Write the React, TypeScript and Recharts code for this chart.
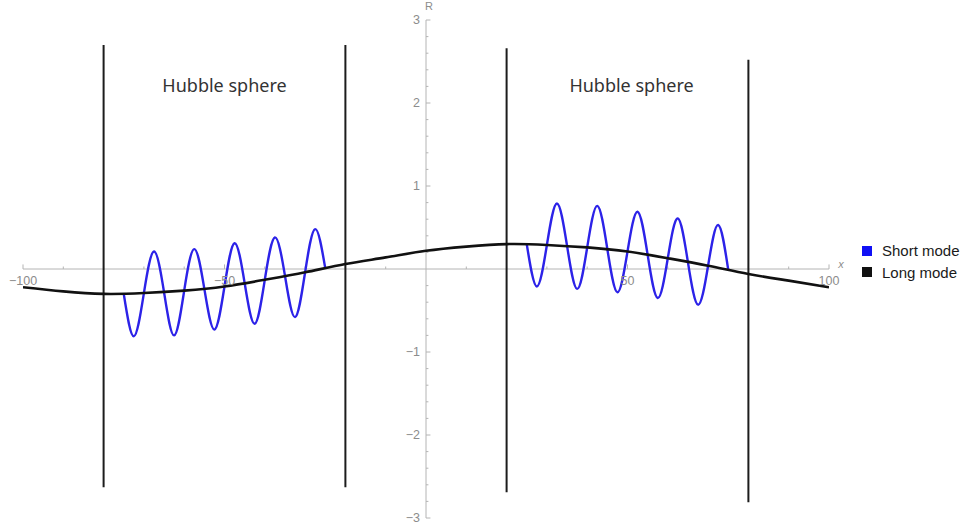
import React from 'react';
import { LineChart, Line, XAxis, YAxis, ReferenceLine, ReferenceDot } from 'recharts';

// Long-wavelength mode across the whole comoving range
const longX = [-100, -90, -80, -70, -60, -50, -40, -30, -20, -10, 0, 10, 20, 30, 40, 50, 60, 70, 80, 90, 100];
const longY = [-0.22, -0.27, -0.30, -0.29, -0.26, -0.21, -0.13, -0.04, 0.06, 0.14, 0.22, 0.27, 0.30, 0.29, 0.26, 0.21, 0.13, 0.04, -0.06, -0.14, -0.22];

// Short-wavelength mode inside the left Hubble sphere
const shortLeftX = [-75, -72.5, -70, -67.5, -65, -62.5, -60, -57.5, -55, -52.5, -50, -47.5, -45, -42.5, -40, -37.5, -35, -32.5, -30, -27.5, -25];
const shortLeftY = [-0.30, -0.81, -0.29, 0.21, -0.28, -0.80, -0.26, 0.24, -0.24, -0.73, -0.21, 0.31, -0.17, -0.66, -0.13, 0.38, -0.08, -0.58, -0.04, 0.48, 0.01];

// Short-wavelength mode inside the right Hubble sphere
const shortRightX = [25, 27.5, 30, 32.5, 35, 37.5, 40, 42.5, 45, 47.5, 50, 52.5, 55, 57.5, 60, 62.5, 65, 67.5, 70, 72.5, 75];
const shortRightY = [0.30, -0.21, 0.29, 0.79, 0.28, -0.24, 0.26, 0.76, 0.24, -0.28, 0.21, 0.69, 0.17, -0.35, 0.13, 0.61, 0.08, -0.43, 0.04, 0.53, -0.01];

// Hubble sphere boundaries
const horizonX = [-80, -20, 20, 80];
const horizonBottom = [-2.63, -2.63, -2.69, -2.81];
const horizonTop = [2.70, 2.70, 2.66, 2.52];

// Region captions
const captionText = ['Hubble sphere', 'Hubble sphere'];
const captionX = [-50, 51];
const captionY = 2.22;

// Axis ticks
const xMajorTicks = [-100, -50, 50, 100];
const xTickLabels = ['\u2212100', '\u221250', '50', '100'];
const xMinorTicks = [-90, -80, -70, -60, -40, -30, -20, -10, 10, 20, 30, 40, 60, 70, 80, 90];
const yMajorTicks = [-3, -2, -1, 1, 2, 3];
const yTickLabels = ['\u22123', '\u22122', '\u22121', '1', '2', '3'];
const yMinorTicks = [-2.8, -2.6, -2.4, -2.2, -1.8, -1.6, -1.4, -1.2, -0.8, -0.6, -0.4, -0.2, 0.2, 0.4, 0.6, 0.8, 1.2, 1.4, 1.6, 1.8, 2.2, 2.4, 2.6, 2.8];

const legendNames = ['Short mode', 'Long mode'];
const legendColors = ['#1010f5', '#111111'];

const SHORT_COLOR = '#2c22e8';
const LONG_COLOR = '#111111';
const AXIS_COLOR = '#b4b4b4';
const TICK_TEXT = '#8c8c8c';
const SANS = '"Liberation Sans", Arial, sans-serif';

const toPoints = (xs: number[], ys: number[]) => xs.map((x, i) => ({ x, y: ys[i] }));

const longData = toPoints(longX, longY);
const shortLeftData = toPoints(shortLeftX, shortLeftY);
const shortRightData = toPoints(shortRightX, shortRightY);

type TextProps = {
  cx?: number;
  cy?: number;
  text: string;
  dx?: number;
  dy?: number;
  anchor?: 'start' | 'middle' | 'end';
  size?: number;
  color?: string;
  family?: string;
  italic?: boolean;
};

const PlacedText = ({ cx = 0, cy = 0, text, dx = 0, dy = 0, anchor = 'middle', size = 12.5, color = TICK_TEXT, family = SANS, italic = false }: TextProps) => (
  <text
    x={cx + dx}
    y={cy + dy}
    textAnchor={anchor}
    dominantBaseline="central"
    fontSize={size}
    fill={color}
    fontFamily={family}
    fontStyle={italic ? 'italic' : 'normal'}
  >
    {text}
  </text>
);

const Legend = () => (
  <div style={{ position: 'absolute', left: 862, top: 240, fontFamily: SANS, fontSize: 15, color: '#1a1a1a' }}>
    {legendNames.map((name, i) => (
      <div key={name} style={{ display: 'flex', alignItems: 'center', height: 21.5 }}>
        <span style={{ display: 'inline-block', width: 10, height: 10, background: legendColors[i], marginRight: 10 }} />
        <span>{name}</span>
      </div>
    ))}
  </div>
);

export default function App() {
  return (
    <div style={{ position: 'absolute', left: 0, top: 0, width: 963, height: 531, background: '#fff' }}>
      <LineChart width={963} height={531} margin={{ top: 20, right: 134, bottom: 13, left: 23 }}>
        <XAxis type="number" dataKey="x" domain={[-100, 100]} hide allowDataOverflow />
        <YAxis type="number" dataKey="y" domain={[-3, 3]} hide allowDataOverflow />

        {/* axes crossing at the origin */}
        <ReferenceLine y={0} stroke={AXIS_COLOR} strokeWidth={1} />
        <ReferenceLine x={0} stroke={AXIS_COLOR} strokeWidth={1} />

        {xMinorTicks.map((v) => (
          <ReferenceLine key={`xm${v}`} segment={[{ x: v, y: 0 }, { x: v, y: 0.03 }]} stroke={AXIS_COLOR} />
        ))}
        {xMajorTicks.map((v) => (
          <ReferenceLine key={`xM${v}`} segment={[{ x: v, y: 0 }, { x: v, y: 0.055 }]} stroke={AXIS_COLOR} />
        ))}
        {yMinorTicks.map((v) => (
          <ReferenceLine key={`ym${v}`} segment={[{ x: 0, y: v }, { x: 0.6, y: v }]} stroke={AXIS_COLOR} />
        ))}
        {yMajorTicks.map((v) => (
          <ReferenceLine key={`yM${v}`} segment={[{ x: 0, y: v }, { x: 1.1, y: v }]} stroke={AXIS_COLOR} />
        ))}

        {xMajorTicks.map((v, i) => (
          <ReferenceDot
            key={`xl${v}`}
            x={v}
            y={0}
            r={0}
            shape={(p: any) => <PlacedText cx={p.cx} cy={p.cy} dy={12} text={xTickLabels[i]} />}
          />
        ))}
        {yMajorTicks.map((v, i) => (
          <ReferenceDot
            key={`yl${v}`}
            x={0}
            y={v}
            r={0}
            shape={(p: any) => <PlacedText cx={p.cx} cy={p.cy} dx={-6} anchor="end" text={yTickLabels[i]} />}
          />
        ))}
        <ReferenceDot
          x={100}
          y={0}
          r={0}
          shape={(p: any) => <PlacedText cx={p.cx} cy={p.cy} dx={12} dy={-5} size={11} italic text="x" />}
        />
        <ReferenceDot
          x={0}
          y={3}
          r={0}
          shape={(p: any) => <PlacedText cx={p.cx} cy={p.cy} dx={3} dy={-14} size={11} text="R" />}
        />

        {captionX.map((v, i) => (
          <ReferenceDot
            key={`cap${i}`}
            x={v}
            y={captionY}
            r={0}
            shape={(p: any) => (
              <PlacedText cx={p.cx} cy={p.cy} size={18} color="#333" family='"Noto Sans", sans-serif' text={captionText[i]} />
            )}
          />
        ))}

        {horizonX.map((v, i) => (
          <Line
            key={`h${v}`}
            data={[{ x: v, y: horizonBottom[i] }, { x: v, y: horizonTop[i] }]}
            dataKey="y"
            type="linear"
            stroke="#1c1c1c"
            strokeWidth={2}
            dot={false}
            activeDot={false}
            isAnimationActive={false}
          />
        ))}

        <Line data={shortLeftData} dataKey="y" type="natural" stroke={SHORT_COLOR} strokeWidth={2.4} dot={false} activeDot={false} isAnimationActive={false} />
        <Line data={shortRightData} dataKey="y" type="natural" stroke={SHORT_COLOR} strokeWidth={2.4} dot={false} activeDot={false} isAnimationActive={false} />
        <Line data={longData} dataKey="y" type="natural" stroke={LONG_COLOR} strokeWidth={2.6} dot={false} activeDot={false} isAnimationActive={false} />
      </LineChart>
      <Legend />
    </div>
  );
}
